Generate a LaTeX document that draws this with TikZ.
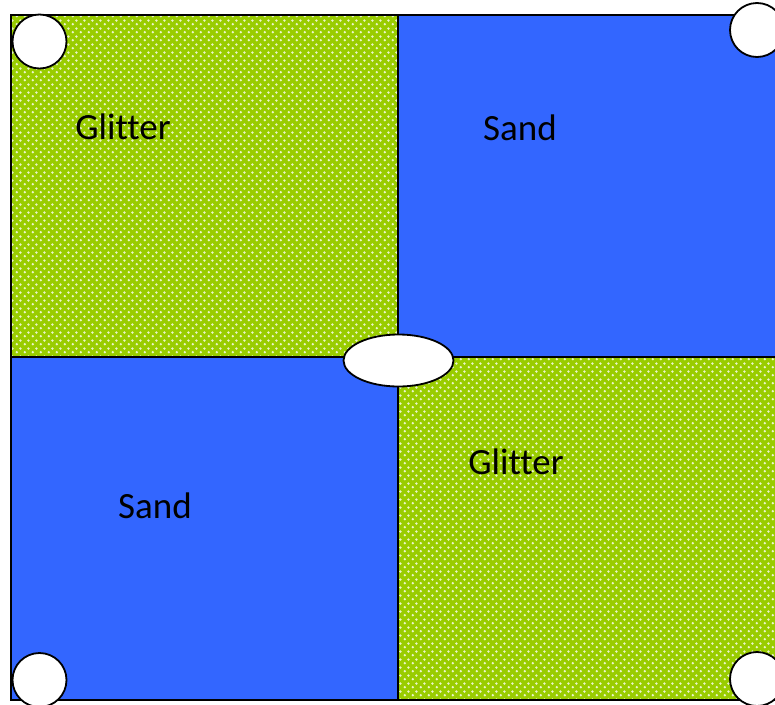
\documentclass[tikz,border=0pt]{standalone}
\usepackage{fontspec}
\setmainfont{Carlito}[Ligatures=NoCommon]
\usepackage{tikz}
\usepackage{xcolor}
\usetikzlibrary{patterns.meta}

\definecolor{glittergreen}{HTML}{99CC00}
\definecolor{sandblue}{HTML}{3366FF}

\tikzdeclarepattern{
  name=glitterdots,
  type=uncolored,
  bounding box={(0pt,0pt) and (7.6pt,7.6pt)},
  tile size={(7.6pt,7.6pt)},
  code={
    \fill (1.9pt,1.9pt) circle (1.4pt);
    \fill (5.7pt,5.7pt) circle (1.4pt);
  }
}

\tikzset{
  glitter/.style={fill=glittergreen,postaction={pattern={glitterdots},pattern color=white!80!glittergreen}},
  sand/.style={fill=sandblue},
  edge/.style={draw=black,line width=2pt},
  hole/.style={draw=black,line width=1.8pt,fill=white},
  label/.style={font=\fontsize{37}{44}\selectfont,anchor=base}
}

\begin{document}
\begin{tikzpicture}[x=1pt,y=-1pt]
  \def\L{11}
  \def\T{15}
  \def\R{792}
  \def\B{700}
  \def\Mx{398}
  \def\My{357}

  \useasboundingbox (0,0) rectangle (775,704);

  % quarters
  \path[glitter] (\L,\T) rectangle (\Mx,\My);
  \path[sand] (\Mx,\T) rectangle (\R,\My);
  \path[sand] (\L,\My) rectangle (\Mx,\B);
  \path[glitter] (\Mx,\My) rectangle (\R,\B);

  % borders
  \draw[edge] (\L,\T) rectangle (\R,\B);
  \draw[edge] (\Mx,\T) -- (\Mx,\B);
  \draw[edge] (\L,\My) -- (\R,\My);

  % labels
  \node[label] (glitterA) at (123,139) {Glitter};
  \node[label] (sandA) at (520,140) {Sand};
  \node[label] (sandB) at (155,518) {Sand};
  \node[label] (glitterB) at (516,474) {Glitter};

  % holes
  \draw[hole] (39.5,41.5) circle (27);
  \draw[hole] (757,30) circle (27);
  \draw[hole] (39.5,680) circle (27);
  \draw[hole] (757,679) circle (27);
  \draw[hole] (398.5,360.5) ellipse (55 and 26);

\end{tikzpicture}
\end{document}
